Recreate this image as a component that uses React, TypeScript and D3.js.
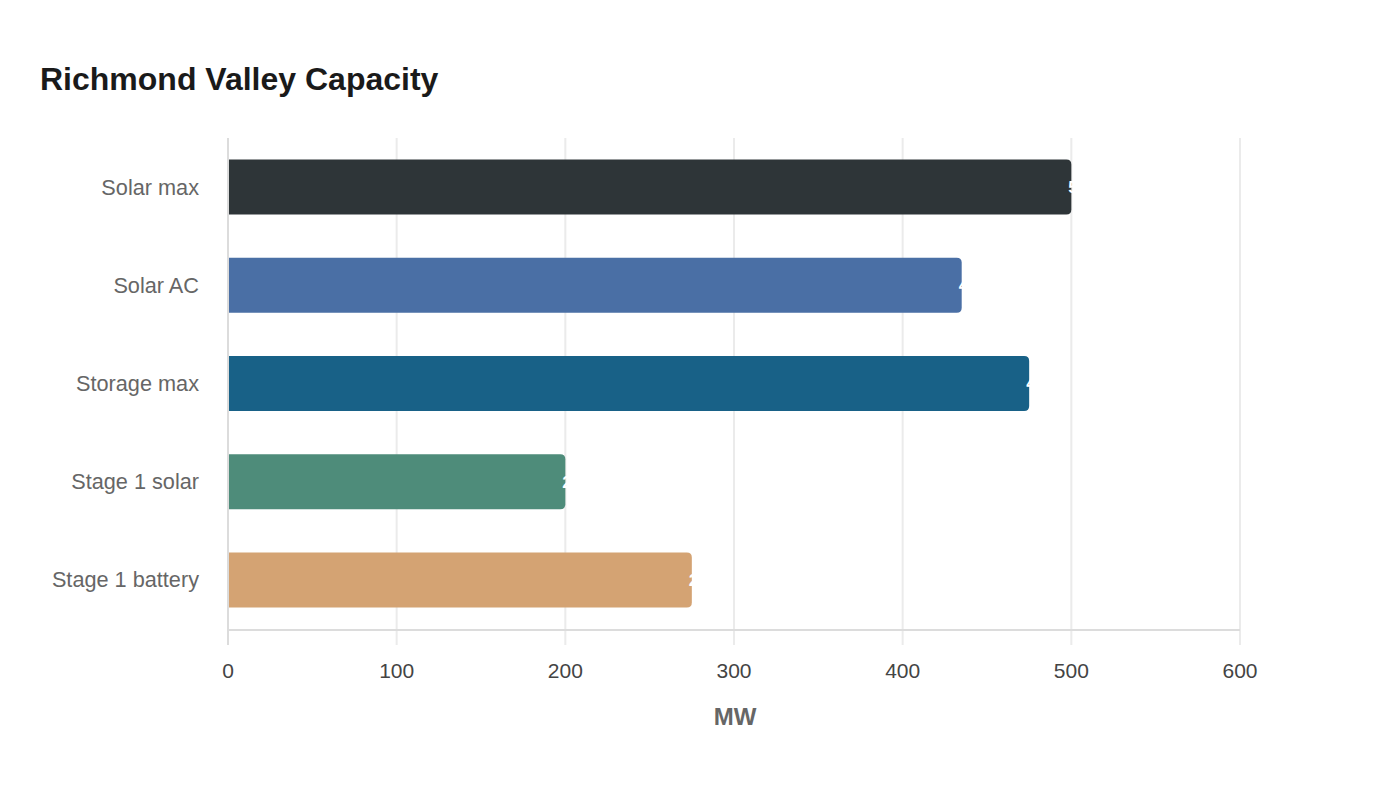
import React from 'react';
import * as d3 from 'd3';

// chart data
const categories = ['Solar max', 'Solar AC', 'Storage max', 'Stage 1 solar', 'Stage 1 battery'];
const capacityMW = [500, 435, 475, 200, 275];
const barColors = ['#2e3538', '#4a6fa5', '#186187', '#4e8c7a', '#d4a373'];
const xTicks = [0, 100, 200, 300, 400, 500, 600];

const W = 1400;
const H = 800;
const margin = { top: 138, right: 160, bottom: 171, left: 228 };
const innerW = W - margin.left - margin.right;
const innerH = H - margin.top - margin.bottom;

// bar with square left side and rounded right corners
function barPath(x0: number, x1: number, y0: number, h: number, r: number) {
  const rr = Math.min(r, (x1 - x0) / 2, h / 2);
  return `M${x0},${y0}H${x1 - rr}Q${x1},${y0} ${x1},${y0 + rr}V${y0 + h - rr}Q${x1},${y0 + h} ${x1 - rr},${y0 + h}H${x0}Z`;
}

export default function App() {
  const xScale = d3.scaleLinear().domain([0, 600]).range([0, innerW]);
  const yScale = d3.scaleBand<string>().domain(categories).range([0, innerH]).paddingInner(0.44).paddingOuter(0.22);
  const font = '"Liberation Sans", Arial, sans-serif';

  return (
    <svg width={W} height={H} style={{ position: 'absolute', left: 0, top: 0, fontFamily: font }}>
      <rect width={W} height={H} fill="#fff" />
      <text x={40} y={90} fontSize={32} fontWeight="bold" fill="#1a1a1a">Richmond Valley Capacity</text>

      <g transform={`translate(${margin.left},${margin.top})`}>
        {/* vertical grid lines */}
        {xTicks.map(t => (
          <line key={'g' + t} x1={xScale(t)} x2={xScale(t)} y1={0} y2={innerH + 16}
            stroke="#ebebeb" strokeWidth={2} />
        ))}
        {/* axes lines */}
        <line x1={0} x2={innerW} y1={innerH + 1} y2={innerH + 1} stroke="#dcdcdc" strokeWidth={2} />
        <line x1={0} x2={0} y1={0} y2={innerH + 16} stroke="#dcdcdc" strokeWidth={2} />

        {/* bars */}
        {categories.map((c, i) => {
          const y0 = yScale(c) as number;
          const x1 = xScale(capacityMW[i]);
          return (
            <g key={c}>
              <path d={barPath(1, x1, y0, yScale.bandwidth(), 5)} fill={barColors[i]} />
              <text x={x1 - 3} y={y0 + yScale.bandwidth() / 2} dy="0.35em" fontSize={17}
                fontWeight="bold" fill="#fff">{capacityMW[i]}</text>
            </g>
          );
        })}

        {/* category labels */}
        {categories.map(c => (
          <text key={'l' + c} x={-29} y={(yScale(c) as number) + yScale.bandwidth() / 2} dy="0.35em"
            textAnchor="end" fontSize={21.7} fill="#666">{c}</text>
        ))}

        {/* x tick labels */}
        {xTicks.map(t => (
          <text key={'t' + t} x={xScale(t)} y={innerH + 42} dy="0.35em" textAnchor="middle"
            fontSize={21} fill="#444">{t}</text>
        ))}

        <text x={innerW / 2 + 1} y={innerH + 88} dy="0.35em" textAnchor="middle" fontSize={24}
          fontWeight="bold" fill="#666">MW</text>
      </g>
    </svg>
  );
}
